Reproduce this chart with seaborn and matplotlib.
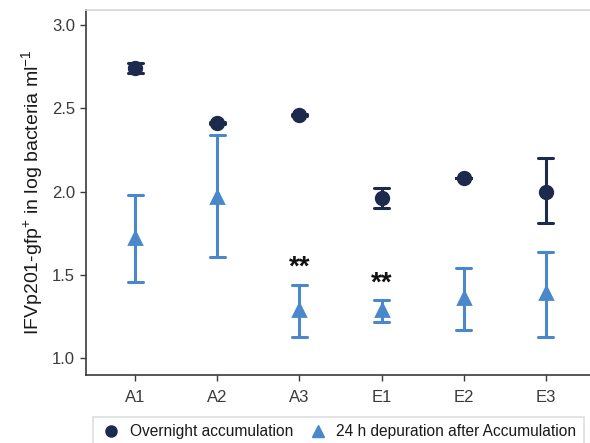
import numpy as np
import pandas as pd
import matplotlib
matplotlib.use('Agg')
import matplotlib.pyplot as plt
from matplotlib.lines import Line2D
import seaborn as sns

# --- dados ---
locais = ['A1', 'A2', 'A3', 'E1', 'E2', 'E3']
grupos = ['Overnight accumulation', '24 h depuration after Accumulation']

media_acum = [2.74, 2.41, 2.46, 1.96, 2.08, 2.00]
inf_acum = [2.71, 2.405, 2.455, 1.90, 2.08, 1.81]
sup_acum = [2.77, 2.415, 2.465, 2.02, 2.08, 2.20]

media_dep = [1.72, 1.97, 1.29, 1.29, 1.36, 1.39]
inf_dep = [1.46, 1.61, 1.13, 1.22, 1.17, 1.13]
sup_dep = [1.98, 2.34, 1.44, 1.35, 1.54, 1.64]

signif_locais = ['A3', 'E1']
signif_y = [1.545, 1.45]

cores = ['#1c2a4d', '#4a88cb']

# tabela longa: inferior, media e superior por local -> mediana + intervalo total
linhas = []
for g, med, lo, hi in [(grupos[0], media_acum, inf_acum, sup_acum),
                       (grupos[1], media_dep, inf_dep, sup_dep)]:
    for loc, m, a, b in zip(locais, med, lo, hi):
        for v in (a, m, b):
            linhas.append({'local': loc, 'grupo': g, 'valor': v})
df = pd.DataFrame(linhas)

sns.set_style('white')
plt.rcParams['font.family'] = ['Liberation Sans', 'DejaVu Sans']
plt.rcParams['mathtext.fontset'] = 'custom'
plt.rcParams['mathtext.rm'] = 'Liberation Sans'
plt.rcParams['mathtext.it'] = 'Liberation Sans:italic'

fig = plt.figure(figsize=(5.9, 4.43), dpi=100)
ax = fig.add_axes([86 / 590, 1 - 375 / 443, (595 - 86) / 590, (375 - 10) / 443])

sns.pointplot(data=df, x='local', y='valor', hue='grupo', order=locais,
              hue_order=grupos, palette=cores, estimator='median',
              errorbar=('pi', 100), markers=['o', '^'], linestyle='none',
              dodge=False, capsize=0.18, err_kws={'linewidth': 2.2},
              markersize=9, legend=False, ax=ax)

for loc, yy in zip(signif_locais, signif_y):
    ax.text(locais.index(loc), yy, '**', ha='center', va='center',
            fontsize=20, fontweight='bold', color='#111111')

ax.set_xlim(-0.6, 5.6)
ax.set_ylim(0.9, 3.09)
ax.set_yticks([1.0, 1.5, 2.0, 2.5, 3.0])
ax.set_yticklabels(['1.0', '1.5', '2.0', '2.5', '3.0'])
ax.set_xlabel('')
ax.set_ylabel('IFVp201-gfp$^{+}$ in log bacteria ml$^{-1}$', fontsize=14,
              color='#1a1a1a', labelpad=5)

for lado in ['left', 'bottom']:
    ax.spines[lado].set_color('#3a3a3a')
    ax.spines[lado].set_linewidth(1.2)
for lado in ['top', 'right']:
    ax.spines[lado].set_color('#d6d6d6')
    ax.spines[lado].set_linewidth(1.2)
ax.tick_params(axis='both', which='both', direction='out', length=4, width=1,
               color='#3a3a3a', labelsize=12, labelcolor='#3a3a3a',
               left=True, bottom=True)
ax.tick_params(axis='x', pad=7)
ax.tick_params(axis='y', pad=4)

alcas = [Line2D([], [], marker='o', color=cores[0], linestyle='none', markersize=8),
         Line2D([], [], marker='^', color=cores[1], linestyle='none', markersize=9)]
leg = fig.legend(alcas, grupos, loc='upper left',
                 bbox_to_anchor=(93 / 590, 1 - 417 / 443), borderaxespad=0,
                 ncol=2, fontsize=11.2, frameon=True, fancybox=False,
                 handletextpad=0.5, columnspacing=0.9, borderpad=0.45,
                 handlelength=1.4)
leg.get_frame().set_edgecolor('#d6d6d6')
leg.get_frame().set_linewidth(1.2)
for t in leg.get_texts():
    t.set_color('#1a1a1a')

fig.savefig('out.png', dpi=100)
